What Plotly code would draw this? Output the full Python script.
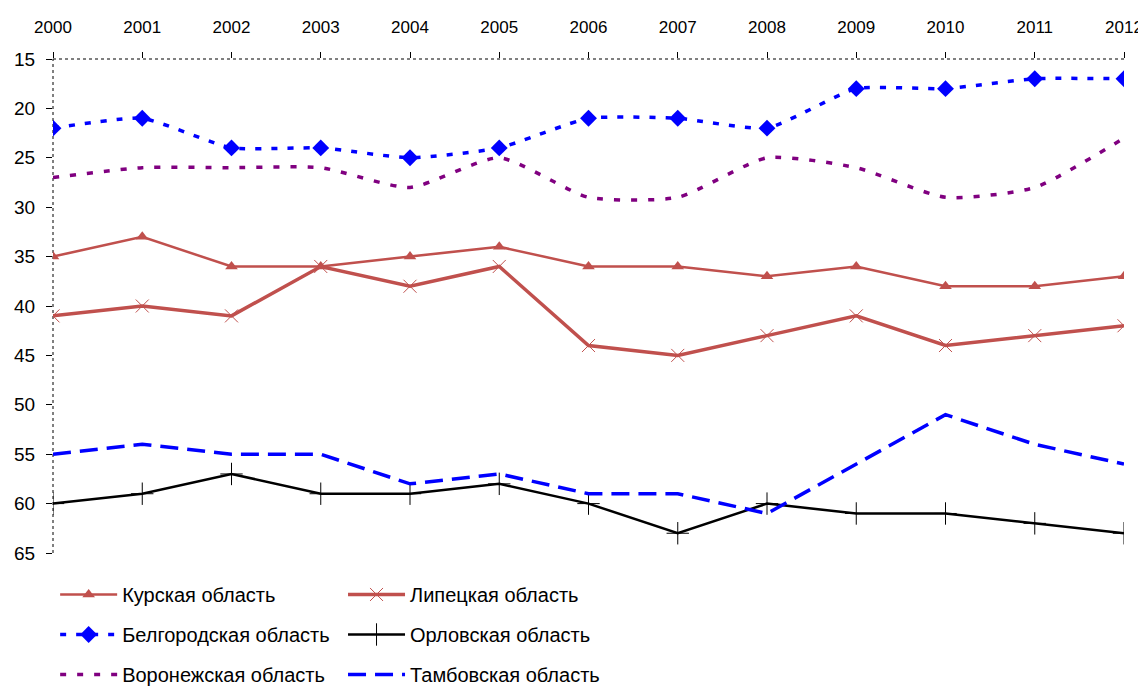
import plotly.graph_objects as go

years = list(range(2000, 2013))
kursk = [35, 33, 36, 36, 35, 34, 36, 36, 37, 36, 38, 38, 37]
lipetsk = [41, 40, 41, 36, 38, 36, 44, 45, 43, 41, 44, 43, 42]
belgorod = [22, 21, 24, 24, 25, 24, 21, 21, 22, 18, 18, 17, 17]
orel = [60, 59, 57, 59, 59, 58, 60, 63, 60, 61, 61, 62, 63]
voronezh = [27, 26, 26, 26, 28, 25, 29, 29, 25, 26, 29, 28, 23]
tambov = [55, 54, 55, 55, 58, 57, 59, 59, 61, 56, 51, 54, 56]

y_ticks = [15, 20, 25, 30, 35, 40, 45, 50, 55, 60, 65]

RED = "#C0504D"
BLUE = "#0000FF"
PURPLE = "#800080"
FONT = "Liberation Sans, Arial, sans-serif"

fig = go.Figure()

fig.add_trace(go.Scatter(
    x=years, y=kursk, name="Курская область", mode="lines+markers",
    line=dict(color=RED, width=2.5),
    marker=dict(symbol="triangle-up", size=11, color=RED),
    legend="legend", legendgroup="a"))
fig.add_trace(go.Scatter(
    x=years, y=belgorod, name="Белгородская область", mode="lines+markers",
    line=dict(color=BLUE, width=3.5, dash="6px,10px", shape="spline", smoothing=0.5),
    marker=dict(symbol="diamond", size=13, color=BLUE),
    legend="legend", legendgroup="b"))
fig.add_trace(go.Scatter(
    x=years, y=voronezh, name="Воронежская область", mode="lines",
    line=dict(color=PURPLE, width=3.5, dash="6px,11px", shape="spline", smoothing=0.6),
    legend="legend", legendgroup="c"))

fig.add_trace(go.Scatter(
    x=years, y=lipetsk, name="Липецкая область", mode="lines+markers",
    line=dict(color=RED, width=3.5),
    marker=dict(symbol="x-thin-open", size=13, color=RED, line=dict(width=1, color=RED)),
    legend="legend2", legendgroup="d"))
fig.add_trace(go.Scatter(
    x=years, y=orel, name="Орловская область", mode="lines+markers",
    line=dict(color="black", width=2.5),
    marker=dict(symbol="cross-thin-open", size=16, color="black", line=dict(width=1, color="black")),
    legend="legend2", legendgroup="e"))
fig.add_trace(go.Scatter(
    x=years, y=tambov, name="Тамбовская область", mode="lines",
    line=dict(color=BLUE, width=3.5, dash="18px,9px"),
    legend="legend2", legendgroup="f"))

legend_common = dict(
    orientation="v", yanchor="top", y=-0.0445, xanchor="left",
    font=dict(family=FONT, size=20, color="black"),
    bgcolor="rgba(0,0,0,0)", tracegroupgap=11, itemwidth=57,
)

fig.update_layout(
    width=1138, height=678,
    margin=dict(l=45, r=22, t=51, b=133, autoexpand=False),
    paper_bgcolor="white", plot_bgcolor="white",
    showlegend=True,
    legend=dict(x=0.002, **legend_common),
    legend2=dict(x=0.2708, **legend_common),
    xaxis=dict(
        side="top", range=[2000, 2012], tickmode="array", tickvals=years,
        ticktext=[str(y) for y in years], showgrid=False, zeroline=False,
        ticks="outside", ticklen=6, tickcolor="black", showline=False,
        automargin=False, ticklabelstandoff=12,
        tickfont=dict(family=FONT, size=17, color="black"),
    ),
    yaxis=dict(
        range=[65, 15], tickmode="array", tickvals=y_ticks,
        showgrid=False, zeroline=False, ticks="outside", ticklen=6,
        tickcolor="black", showline=False, automargin=False,
        ticklabelstandoff=7,
        tickfont=dict(family=FONT, size=19, color="black"),
    ),
    shapes=[
        dict(type="line", xref="paper", yref="paper", x0=0, x1=0, y0=0, y1=1,
             line=dict(color="black", width=1, dash="dot"), layer="below"),
        dict(type="line", xref="paper", yref="paper", x0=0, x1=1, y0=1, y1=1,
             line=dict(color="black", width=1, dash="dot"), layer="below"),
    ],
)

fig.write_html("out.html")
